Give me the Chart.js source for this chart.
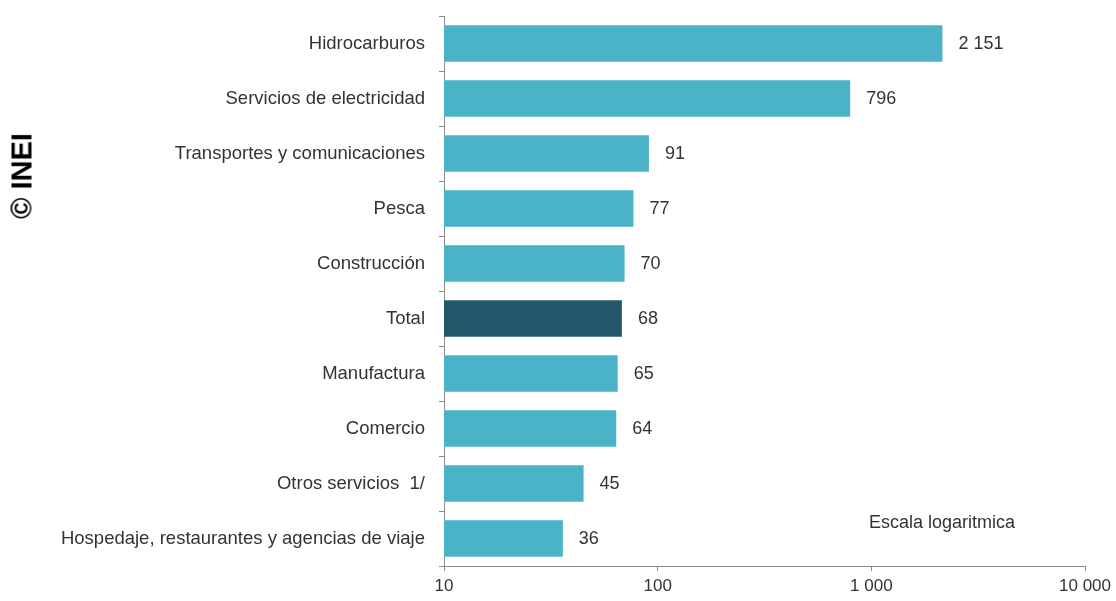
<!DOCTYPE html>
<html>
<head>
<meta charset="utf-8">
<script src="https://cdn.jsdelivr.net/npm/chart.js@4/dist/chart.umd.min.js"></script>
<style>
  html, body { margin: 0; padding: 0; background: #fff; }
  #wrap { position: relative; width: 1116px; height: 601px; }
  #myChart { position: absolute; left: 0; top: 0; }
  #inei {
    position: absolute; left: 22px; top: 176px;
    transform: translate(-50%, -50%) rotate(-90deg);
    font-family: "Liberation Sans", Arial, sans-serif;
    font-weight: bold; font-size: 29px; color: #000; white-space: nowrap;
  }
</style>
</head>
<body>
<div id="wrap">
  <canvas id="myChart" width="1116" height="601"></canvas>
  <div id="inei">© INEI</div>
</div>
<script>
var sectores = ['Hidrocarburos', 'Servicios de electricidad', 'Transportes y comunicaciones', 'Pesca',
    'Construcción', 'Total', 'Manufactura', 'Comercio', 'Otros servicios  1/',
    'Hospedaje, restaurantes y agencias de viaje'];
var valores = [2151, 796, 91, 77, 70, 68, 65, 64, 45, 36];
var ticksX = [10, 100, 1000, 10000];

var colorBarra = '#4AB3C7';
var colorTotal = '#22586A';
var fuente = '"Liberation Sans", Arial, sans-serif';

function formato(n) {
    return String(n).replace(/\B(?=(\d{3})+(?!\d))/g, ' ');
}

// etiquetas de valor al final de cada barra + nota de escala
var etiquetas = {
    id: 'etiquetas',
    afterDatasetsDraw: function(chart) {
        var ctx = chart.ctx;
        var meta = chart.getDatasetMeta(0);
        ctx.save();
        ctx.font = '18px ' + fuente;
        ctx.fillStyle = '#333';
        ctx.textBaseline = 'middle';
        ctx.textAlign = 'left';
        meta.data.forEach(function(bar, i) {
            ctx.fillText(formato(valores[i]), bar.x + 16, bar.y + 1);
        });
        ctx.fillText('Escala logaritmica', 869, 523);
        ctx.restore();
    }
};

var ctx = document.getElementById('myChart');
var myChart = new Chart(ctx, {
    type: 'bar',
    data: {
        labels: sectores,
        datasets: [{
            data: valores,
            backgroundColor: sectores.map(function(s) { return s === 'Total' ? colorTotal : colorBarra; }),
            barPercentage: 0.66,
            categoryPercentage: 1
        }]
    },
    options: {
        indexAxis: 'y',
        responsive: false,
        animation: false,
        layout: { padding: { top: 16, right: 30, left: 0, bottom: 0 } },
        plugins: { legend: { display: false }, tooltip: { enabled: false } },
        scales: {
            x: {
                type: 'logarithmic',
                min: 10,
                max: 10000,
                afterBuildTicks: function(scale) {
                    scale.ticks = ticksX.map(function(v) { return { value: v }; });
                },
                afterFit: function(scale) { scale.height = 35; },
                border: { color: '#8c8c8c', width: 1 },
                grid: { drawOnChartArea: false, drawTicks: true, tickLength: 5, color: '#8c8c8c' },
                ticks: {
                    color: '#333',
                    font: { family: fuente, size: 17 },
                    padding: 5,
                    maxRotation: 0,
                    callback: function(v) { return formato(v); }
                }
            },
            y: {
                afterFit: function(scale) {
                    scale.width = 444;
                    scale.paddingTop = 0;
                    scale.paddingBottom = 0;
                },
                border: { color: '#8c8c8c', width: 1 },
                grid: { drawOnChartArea: false, drawTicks: true, tickLength: 5, color: '#8c8c8c', offset: true },
                ticks: {
                    color: '#333',
                    font: { family: fuente, size: 18.5 },
                    padding: 14
                }
            }
        }
    },
    plugins: [etiquetas]
});
</script>
</body>
</html>
